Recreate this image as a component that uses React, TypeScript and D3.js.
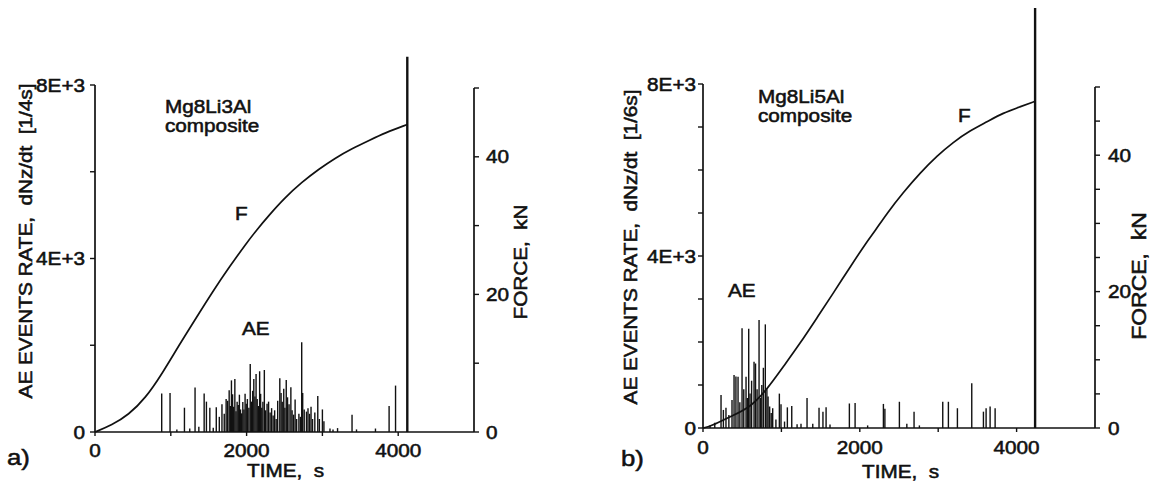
import React from 'react';
import * as d3 from 'd3';

const W = 1151;
const H = 483;
const FONT = '"Liberation Sans", Arial, Helvetica, sans-serif';
const INK = '#111';

// ---- panel a) Mg8Li3Al composite ----
// force curve [time s, force kN]
const forceA: [number, number][] = [
  [0, 0], [222, 1.0], [443, 2.5], [665, 4.9], [887, 8.5], [1108, 12.6], [1330, 16.5],
  [1552, 20.4], [1773, 24.0], [1995, 27.4], [2128, 29.3], [2288, 31.4], [2500, 34.0],
  [2727, 36.3], [2953, 38.2], [3165, 39.8], [3392, 41.2], [3618, 42.4], [3830, 43.5], [4120, 44.7],
];
// AE events rate bars [time s, rate]
const aeA: [number, number][] = [
  [880, 890], [990, 900], [1080, 60], [1180, 560], [1250, 80], [1320, 1025], [1370, 120],
  [1440, 890], [1470, 700], [1515, 560], [1560, 100], [1600, 570], [1640, 350], [1675, 640],
  [1705, 420], [1730, 760], [1750, 720], [1770, 960], [1785, 600], [1800, 1190], [1815, 870],
  [1830, 580], [1845, 1220], [1860, 480], [1875, 700], [1890, 620], [1905, 860], [1920, 520],
  [1935, 430], [1950, 690], [1965, 520], [1980, 880], [1995, 650], [2010, 760], [2030, 560],
  [2048, 1570], [2065, 700], [2080, 950], [2095, 1220], [2110, 820], [2125, 1340], [2140, 760],
  [2155, 600], [2172, 1400], [2185, 880], [2200, 560], [2215, 700], [2234, 1430], [2250, 500],
  [2270, 650], [2290, 700], [2310, 450], [2330, 550], [2350, 380], [2370, 500], [2390, 300],
  [2410, 720], [2438, 1240], [2455, 900], [2470, 700], [2490, 1000], [2505, 560], [2523, 1200],
  [2540, 800], [2560, 640], [2584, 1030], [2600, 500], [2620, 400], [2640, 750], [2660, 300],
  [2690, 420], [2710, 350], [2727, 2070], [2740, 900], [2760, 520], [2790, 470], [2810, 550],
  [2830, 420], [2850, 580], [2870, 300], [2900, 450], [2939, 830], [2960, 300], [3000, 520],
  [3020, 250], [3100, 80], [3140, 60], [3200, 90], [3391, 400], [3450, 60], [3700, 80],
  [3880, 600], [3965, 1070],
];
const spikeA: [number, number] = [4120, 8650];

// ---- panel b) Mg8Li5Al composite ----
const forceB: [number, number][] = [
  [0, 0], [89, 0.2], [370, 1.8], [600, 3.0], [813, 5.6], [1025, 9.0], [1238, 12.4], [1451, 16.1],
  [1663, 19.8], [1876, 23.6], [2089, 27.3], [2195, 28.9], [2348, 31.5], [2552, 34.5], [2769, 37.4],
  [2986, 39.9], [3190, 41.9], [3407, 43.6], [3624, 44.9], [3828, 46.2], [4045, 47.1], [4236, 47.9],
];
const aeB: [number, number][] = [
  [90, 60], [150, 120], [230, 770], [260, 420], [293, 470], [330, 300], [370, 650], [396, 1230],
  [420, 1200], [447, 1190], [470, 600], [498, 2320], [520, 900], [549, 1190], [565, 700],
  [583, 2310], [600, 800], [620, 1100], [651, 1540], [670, 1500], [690, 900], [715, 2510],
  [735, 700], [750, 1000], [770, 1400], [795, 2410], [815, 900], [830, 730], [850, 500],
  [870, 350], [889, 460], [930, 200], [974, 800], [995, 550], [1040, 150], [1076, 480],
  [1132, 510], [1200, 90], [1250, 100], [1327, 700], [1400, 100], [1480, 470], [1530, 380],
  [1570, 480], [1620, 80], [1867, 570], [1940, 580], [2100, 60], [2301, 560], [2320, 450],
  [2505, 610], [2600, 100], [2692, 380], [2760, 60], [3058, 610], [3130, 610], [3245, 460],
  [3428, 1040], [3577, 380], [3611, 460], [3662, 500], [3726, 460],
];
const spikeB: [number, number] = [4236, 9770];

const timeTicks = [0, 1000, 2000, 3000, 4000];
const timeLabels = [0, 2000, 4000];
const aeLabels = [0, 4000, 8000];
const forceLabels = [0, 20, 40];

// text stretched a bit along its run, like the scanned lettering
const T = ({ x, y, children, size = 18.5, anchor = 'start', rot = 0, sx = 1.12 }: any) => (
  <text
    transform={`translate(${x},${y}) rotate(${rot}) scale(${sx},1)`}
    fontSize={size}
    fontFamily={FONT}
    textAnchor={anchor}
    fill={INK}
    stroke={INK}
    strokeWidth={0.55}
    style={{ whiteSpace: 'pre' }}
  >
    {children}
  </text>
);

const fmtAE = (v: number) => (v === 0 ? '0' : `${v / 1000}E+3`);

const Panel = ({ p }: { p: any }) => {
  const x = d3.scaleLinear().domain([0, 5000]).range([p.x0, p.x1]);
  const yA = d3.scaleLinear().domain([0, 8000]).range([p.base, p.aeTop]);
  const yF = d3.scaleLinear().domain([0, 50]).range([p.base, p.fTop]);
  const line = d3.line<[number, number]>()
    .x((d) => x(d[0]))
    .y((d) => yF(d[1]))
    .curve(d3.curveBasis);
  const aeTicks = d3.range(0, 8001, p.aeStep);
  const fTicks = d3.range(0, 50.01, p.fStep);
  const tk = 5;
  return (
    <g>
      {/* AE bars */}
      {p.ae.map((d: [number, number], i: number) => (
        <line key={i} x1={x(d[0])} x2={x(d[0])} y1={yA(0)} y2={yA(d[1])} stroke={INK} strokeWidth={1.4} />
      ))}
      {/* fracture spike */}
      <line x1={x(p.spike[0])} x2={x(p.spike[0])} y1={yA(0)} y2={yA(p.spike[1])} stroke={INK} strokeWidth={2.4} />
      {/* force curve */}
      <path d={line(p.force) || ''} fill="none" stroke={INK} strokeWidth={1.7} />

      {/* left axis */}
      <line x1={p.x0} x2={p.x0} y1={yA(0)} y2={yA(8000)} stroke={INK} strokeWidth={1.7} />
      {aeTicks.map((v: number) => (
        <line key={v} x1={p.x0 - tk} x2={p.x0} y1={yA(v)} y2={yA(v)} stroke={INK} strokeWidth={1.4} />
      ))}
      {aeLabels.map((v) => (
        <T key={v} x={p.x0 - p.aeLabOff} y={yA(v) + 6.5} anchor="end">{fmtAE(v)}</T>
      ))}
      <T x={p.yLab[0]} y={p.yLab[1]} rot={-90} anchor="middle">{p.yTitle}</T>

      {/* bottom axis */}
      <line x1={p.x0} x2={p.x1} y1={p.base} y2={p.base} stroke={INK} strokeWidth={1.7} />
      {timeTicks.map((v) => (
        <line key={v} x1={x(v)} x2={x(v)} y1={p.base} y2={p.base + 4} stroke={INK} strokeWidth={1.4} />
      ))}
      {timeLabels.map((v) => (
        <T key={v} x={x(v)} y={p.base + p.tLabOff} anchor="middle">{String(v)}</T>
      ))}
      <T x={p.timeLab[0]} y={p.timeLab[1]}>{'TIME,  s'}</T>

      {/* right force axis */}
      <line x1={p.x1} x2={p.x1} y1={yF(0)} y2={yF(50)} stroke={INK} strokeWidth={1.7} />
      {fTicks.map((v: number) => (
        <line key={v} x1={p.x1} x2={p.x1 + tk} y1={yF(v)} y2={yF(v)} stroke={INK} strokeWidth={1.4} />
      ))}
      {forceLabels.map((v) => (
        <T key={v} x={p.x1 + p.fLabOff} y={yF(v) + 6.5}>{String(v)}</T>
      ))}
      <T x={p.fTitle[0]} y={p.fTitle[1]} rot={-90} anchor="middle" size={p.fTitleSize}>{'FORCE,  kN'}</T>

      {/* annotations */}
      <T x={p.alloyPos[0]} y={p.alloyPos[1]}>{p.alloy}</T>
      <T x={p.alloyPos[0]} y={p.alloyPos[1] + 18.5}>composite</T>
      <T x={p.fPos[0]} y={p.fPos[1]}>F</T>
      <T x={p.aePos[0]} y={p.aePos[1]}>AE</T>
      <T x={p.tagPos[0]} y={p.tagPos[1]} size={23}>{p.tag}</T>
    </g>
  );
};

const panels = [
  {
    tag: 'a)', alloy: 'Mg8Li3Al', yTitle: 'AE EVENTS RATE,  dNz/dt  [1/4s]',
    x0: 95, x1: 474, base: 432, aeTop: 85, fTop: 88, aeStep: 2000, fStep: 10,
    force: forceA, ae: aeA, spike: spikeA,
    aeLabOff: 10, tLabOff: 25, fLabOff: 12,
    yLab: [32, 241], timeLab: [247, 477], fTitle: [527, 262], fTitleSize: 18.5,
    alloyPos: [165, 113], fPos: [235, 220], aePos: [242, 335], tagPos: [7, 465],
  },
  {
    tag: 'b)', alloy: 'Mg8Li5Al', yTitle: 'AE EVENTS RATE,  dNz/dt  [1/6s]',
    x0: 703, x1: 1095, base: 428, aeTop: 84, fTop: 87, aeStep: 1000, fStep: 5,
    force: forceB, ae: aeB, spike: spikeB,
    aeLabOff: 7, tLabOff: 26, fLabOff: 13,
    yLab: [637, 247], timeLab: [862, 478], fTitle: [1146, 276], fTitleSize: 20.5,
    alloyPos: [758, 103], fPos: [958, 122], aePos: [728, 297], tagPos: [621, 466],
  },
];

export default function App() {
  return (
    <svg width={W} height={H} style={{ position: 'absolute', left: 0, top: 0, background: '#fff' }}>
      <rect width={W} height={H} fill="#fff" />
      {panels.map((p) => (
        <Panel key={p.tag} p={p} />
      ))}
    </svg>
  );
}
